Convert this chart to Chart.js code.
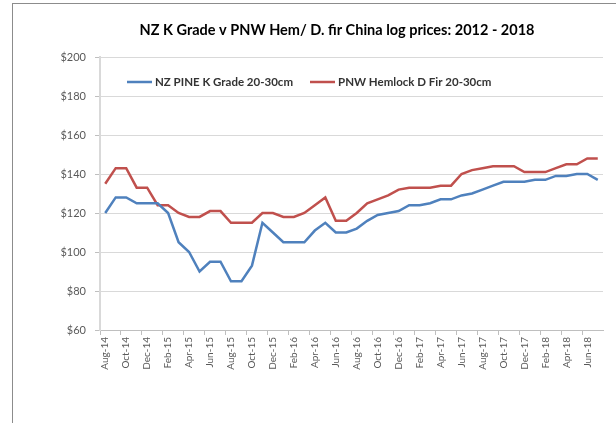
<!DOCTYPE html>
<html lang="en">
<head>
  <meta charset="UTF-8" />
  <title>NZ K Grade v PNW Hem/ D. fir China log prices</title>
  <script src="https://cdn.jsdelivr.net/npm/chart.js"></script>
  <style>
    body {
      margin: 0;
      background: #fff;
      overflow: hidden;
    }
    .wrap {
      position: relative;
      width: 616px;
      height: 423px;
    }
    .frame {
      position: absolute;
      left: 12px;
      top: 3px;
      right: -2px;
      bottom: -2px;
      border-left: 1px solid #8c8c8c;
      border-top: 1px solid #8c8c8c;
    }
    canvas {
      position: absolute;
      left: 0;
      top: 0;
    }
  </style>
</head>
<body>
  <div class="wrap">
    <div class="frame"></div>
    <canvas id="priceChart" width="616" height="423"></canvas>
  </div>

  <script>
    // monthly, Aug-14 .. Jul-18
    const months = [
      'Aug-14', 'Sep-14', 'Oct-14', 'Nov-14', 'Dec-14', 'Jan-15', 'Feb-15', 'Mar-15',
      'Apr-15', 'May-15', 'Jun-15', 'Jul-15', 'Aug-15', 'Sep-15', 'Oct-15', 'Nov-15',
      'Dec-15', 'Jan-16', 'Feb-16', 'Mar-16', 'Apr-16', 'May-16', 'Jun-16', 'Jul-16',
      'Aug-16', 'Sep-16', 'Oct-16', 'Nov-16', 'Dec-16', 'Jan-17', 'Feb-17', 'Mar-17',
      'Apr-17', 'May-17', 'Jun-17', 'Jul-17', 'Aug-17', 'Sep-17', 'Oct-17', 'Nov-17',
      'Dec-17', 'Jan-18', 'Feb-18', 'Mar-18', 'Apr-18', 'May-18', 'Jun-18', 'Jul-18'
    ];
    const nzPineK = [
      120, 128, 128, 125, 125, 125, 120, 105, 100, 90, 95, 95,
      85, 85, 93, 115, 110, 105, 105, 105, 111, 115, 110, 110,
      112, 116, 119, 120, 121, 124, 124, 125, 127, 127, 129, 130,
      132, 134, 136, 136, 136, 137, 137, 139, 139, 140, 140, 137
    ];
    const pnwHemlock = [
      135, 143, 143, 133, 133, 124, 124, 120, 118, 118, 121, 121,
      115, 115, 115, 120, 120, 118, 118, 120, 124, 128, 116, 116,
      120, 125, 127, 129, 132, 133, 133, 133, 134, 134, 140, 142,
      143, 144, 144, 144, 141, 141, 141, 143, 145, 145, 148, 148
    ];
    const seriesNames = ['NZ PINE K Grade 20-30cm', 'PNW Hemlock D Fir 20-30cm'];
    const chartTitle = 'NZ K Grade v PNW Hem/ D. fir China log prices: 2012 - 2018';
    const yMin = 60, yMax = 200, yStep = 20;

    // title is centred a bit left of the plot centre, as in the original
    const offsetTitle = {
      id: 'offsetTitle',
      afterDraw(chart) {
        const c = chart.ctx;
        c.save();
        c.font = 'bold 14.5px Lato';
        c.fillStyle = '#000';
        c.textAlign = 'center';
        c.textBaseline = 'middle';
        c.fillText(chartTitle, 337, 30);
        c.restore();
      }
    };

    // legend sits inside the plot, like the Excel original
    const insideLegend = {
      id: 'insideLegend',
      afterDraw(chart) {
        const c = chart.ctx;
        let x = chart.chartArea.left + 27;
        const y = chart.chartArea.top + 25;
        c.save();
        c.font = 'bold 11.5px Lato';
        c.textBaseline = 'middle';
        chart.data.datasets.forEach(ds => {
          c.strokeStyle = ds.borderColor;
          c.lineWidth = ds.borderWidth;
          c.beginPath();
          c.moveTo(x, y);
          c.lineTo(x + 25, y);
          c.stroke();
          c.fillStyle = '#333';
          c.fillText(ds.label, x + 28, y);
          x += 28 + c.measureText(ds.label).width + 17;
        });
        c.restore();
      }
    };

    const ctx = document.getElementById('priceChart').getContext('2d');
    const priceChart = new Chart(ctx, {
      type: 'line',
      data: {
        labels: months,
        datasets: [
          {
            label: seriesNames[0],
            data: nzPineK,
            borderColor: '#4f81bd',
            borderWidth: 2.5,
            pointRadius: 0,
            tension: 0
          },
          {
            label: seriesNames[1],
            data: pnwHemlock,
            borderColor: '#c0504d',
            borderWidth: 2.5,
            pointRadius: 0,
            tension: 0
          }
        ]
      },
      options: {
        responsive: false,
        animation: false,
        devicePixelRatio: 1,
        layout: { padding: { left: 40, right: 13, top: 57, bottom: 0 } },
        plugins: {
          legend: { display: false },
          tooltip: { enabled: false },
          title: { display: false }
        },
        scales: {
          x: {
            offset: true,
            afterFit(scale) { scale.height = 93; },
            grid: {
              offset: true,
              drawOnChartArea: false,
              tickLength: 5,
              color: ctx => (ctx.index % 2 === 0 ? '#bfbfbf' : 'rgba(0,0,0,0)')
            },
            border: { color: '#bfbfbf', width: 1 },
            ticks: {
              autoSkip: false,
              minRotation: 90,
              maxRotation: 90,
              padding: 2,
              color: '#595959',
              font: { family: 'Lato', size: 10 },
              callback: function(value, index) {
                return index % 2 === 0 ? months[index] : '';
              }
            }
          },
          y: {
            min: yMin,
            max: yMax,
            afterFit(scale) { scale.width = 60; },
            grid: { color: '#d9d9d9', tickLength: 5, tickColor: '#bfbfbf' },
            border: { color: '#d9d9d9', width: 2 },
            ticks: {
              stepSize: yStep,
              padding: 9,
              color: '#595959',
              font: { family: 'Lato', size: 11 },
              callback: function(value) { return '$' + value; }
            }
          }
        }
      },
      plugins: [offsetTitle, insideLegend]
    });
  </script>
</body>
</html>
